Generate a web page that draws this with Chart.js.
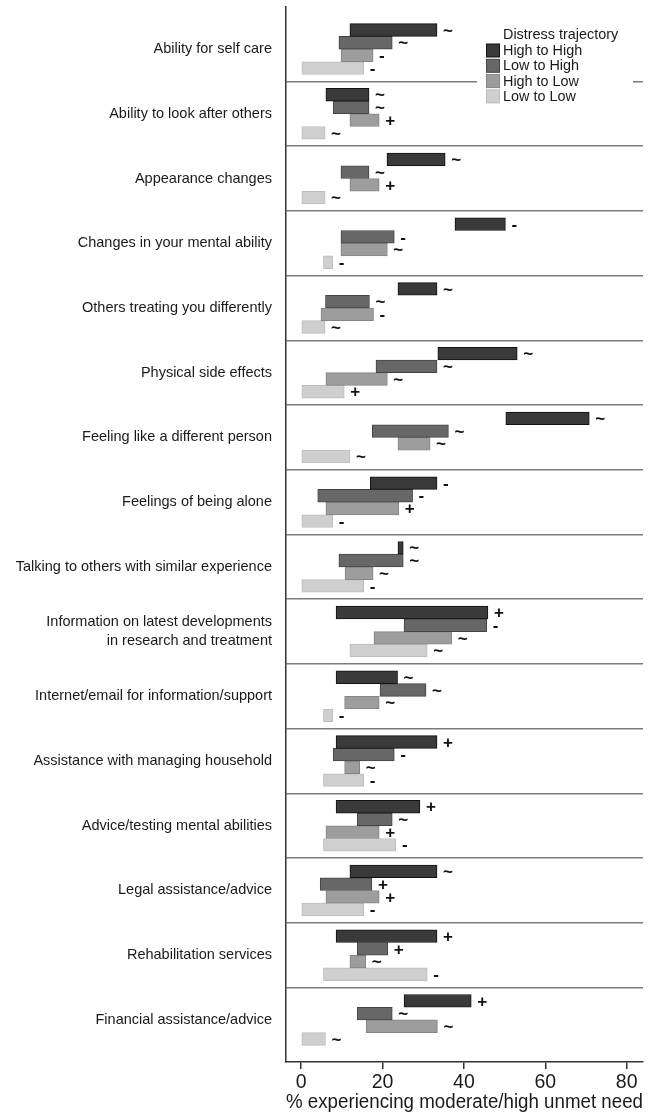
<!DOCTYPE html>
<html>
<head>
<meta charset="utf-8">
<script src="https://cdn.jsdelivr.net/npm/chart.js@4.4.1/dist/chart.umd.min.js"></script>
<style>
  html, body { margin: 0; padding: 0; background: #fff; }
  #wrap { width: 660px; height: 1116px; }
</style>
</head>
<body>
<div id="wrap"><canvas id="needs" width="660" height="1116"></canvas></div>
<script>
const categories = [
    'Ability for self care',
    'Ability to look after others',
    'Appearance changes',
    'Changes in your mental ability',
    'Others treating you differently',
    'Physical side effects',
    'Feeling like a different person',
    'Feelings of being alone',
    'Talking to others with similar experience',
    ['Information on latest developments', 'in research and treatment'],
    'Internet/email for information/support',
    'Assistance with managing household',
    'Advice/testing mental abilities',
    'Legal assistance/advice',
    'Rehabilitation services',
    'Financial assistance/advice'
];

const seriesNames = ['High to High', 'Low to High', 'High to Low', 'Low to Low'];
const xTicks = [0, 20, 40, 60, 80];

// [from, to] range of % with moderate/high unmet need, per category
const highToHigh = [
    [12.0, 33.4], [6.1, 16.7], [21.1, 35.4], [37.8, 50.2], [23.8, 33.4], [33.6, 53.1],
    [50.3, 70.8], [17.0, 33.4], [23.8, 25.1], [8.6, 45.9], [8.6, 23.7], [8.6, 33.4],
    [8.6, 29.2], [12.0, 33.4], [8.6, 33.4], [25.3, 41.8]
];
const lowToHigh = [
    [9.3, 22.4], [7.9, 16.7], [9.8, 16.7], [9.8, 22.9], [6.0, 16.8], [18.4, 33.4],
    [17.5, 36.2], [4.1, 27.4], [9.3, 25.1], [25.3, 45.6], [19.4, 30.7], [7.9, 22.9],
    [13.8, 22.4], [4.7, 17.4], [13.8, 21.3], [13.8, 22.4]
];
const highToLow = [
    [9.8, 17.7], [12.0, 19.2], [12.0, 19.2], [9.8, 21.2], [4.9, 17.8], [6.1, 21.2],
    [23.8, 31.7], [6.1, 24.0], [10.8, 17.7], [17.9, 37.0], [10.7, 19.2], [10.7, 14.4],
    [6.1, 19.2], [6.1, 19.2], [12.0, 15.9], [16.0, 33.5]
];
const lowToLow = [
    [0, 15.4], [0, 5.9], [0, 5.9], [5.5, 7.8], [0, 5.9], [0, 10.6],
    [0, 12.0], [0, 7.8], [0, 15.4], [12.0, 31.0], [5.5, 7.8], [5.5, 15.4],
    [5.5, 23.3], [0, 15.4], [5.5, 31.0], [0, 6.0]
];

// change markers printed after each bar
const highToHighMarks = ['~', '~', '~', '-', '~', '~', '~', '-', '~', '+', '~', '+', '+', '~', '+', '+'];
const lowToHighMarks  = ['~', '~', '~', '-', '~', '~', '~', '-', '~', '-', '~', '-', '~', '+', '+', '~'];
const highToLowMarks  = ['-', '+', '+', '~', '-', '~', '~', '+', '~', '~', '~', '~', '+', '+', '~', '~'];
const lowToLowMarks   = ['-', '~', '~', '-', '~', '+', '~', '-', '-', '~', '-', '-', '-', '-', '-', '~'];

const FONT = '"Liberation Sans", Arial, Helvetica, sans-serif';
const INK = '#1a1a1a';

function series(label, ranges, marks, fill, edge) {
    return {
        label: label,
        data: ranges.map((r, i) => ({ x: r, y: i })),
        marks: marks,
        backgroundColor: fill,
        borderColor: edge,
        borderWidth: 1,
        borderSkipped: false,
        barThickness: 12.7
    };
}

const sigMarks = {
    id: 'sigMarks',
    afterDatasetsDraw(chart) {
        const ctx = chart.ctx;
        ctx.save();
        ctx.font = 'bold 17px ' + FONT;
        ctx.fillStyle = '#111';
        ctx.textAlign = 'left';
        ctx.textBaseline = 'middle';
        chart.data.datasets.forEach((ds, di) => {
            chart.getDatasetMeta(di).data.forEach((bar, i) => {
                const end = Math.max(bar.x, bar.base);
                ctx.fillText(ds.marks[i], end + 6, bar.y + 1);
            });
        });
        ctx.restore();
    }
};

// legend box sitting in the top-right corner of the plot
const boxLegend = {
    id: 'boxLegend',
    afterDraw(chart) {
        const ctx = chart.ctx;
        const left = 477, top = 24;
        ctx.save();
        ctx.fillStyle = '#fff';
        ctx.fillRect(left, top, 156, 82);
        ctx.font = '14.4px ' + FONT;
        ctx.fillStyle = INK;
        ctx.textAlign = 'left';
        ctx.textBaseline = 'middle';
        ctx.fillText('Distress trajectory', left + 26, top + 11);
        chart.data.datasets.forEach((ds, i) => {
            const cy = top + 26.5 + i * 15.3;
            ctx.fillStyle = ds.backgroundColor;
            ctx.fillRect(left + 9.5, cy - 6.5, 13, 13);
            ctx.strokeStyle = ds.borderColor;
            ctx.lineWidth = 1;
            ctx.strokeRect(left + 9.5, cy - 6.5, 13, 13);
            ctx.fillStyle = INK;
            ctx.fillText(ds.label, left + 26, cy + 0.5);
        });
        ctx.restore();
    }
};

document.addEventListener('DOMContentLoaded', () => {
    const ctx = document.getElementById('needs')?.getContext('2d');

    if (!ctx) return;

    const data = {
        datasets: [
            series(seriesNames[0], highToHigh, highToHighMarks, '#3a3a3a', '#111111'),
            series(seriesNames[1], lowToHigh, lowToHighMarks, '#676767', '#444444'),
            series(seriesNames[2], highToLow, highToLowMarks, '#9d9d9d', '#858585'),
            series(seriesNames[3], lowToLow, lowToLowMarks, '#cfcfcf', '#bdbdbd')
        ]
    };

    const config = {
        type: 'bar',
        data: data,
        options: {
            indexAxis: 'y',
            responsive: false,
            animation: false,
            layout: { padding: { top: 7, right: 17, left: 0, bottom: 0 } },
            plugins: {
                legend: { display: false },
                tooltip: { enabled: false }
            },
            scales: {
                x: {
                    type: 'linear',
                    min: -3.7,
                    max: 84,
                    afterBuildTicks: s => { s.ticks = xTicks.map(v => ({ value: v })); },
                    afterFit: s => { s.height = 54; s.paddingRight = 0; s.paddingLeft = 0; },
                    grid: { drawOnChartArea: false, color: '#333', lineWidth: 1.5, tickLength: 7 },
                    border: { color: '#333', width: 1.5 },
                    ticks: { color: INK, padding: 2, font: { family: FONT, size: 19.5 } },
                    title: {
                        display: true,
                        text: '% experiencing moderate/high unmet need',
                        color: INK,
                        font: { family: FONT, size: 19.3 },
                        padding: { top: 0, bottom: 2 }
                    }
                },
                y: {
                    type: 'linear',
                    reverse: true,
                    offset: false,
                    min: -0.65,
                    max: 15.65,
                    // label at each category, separator line halfway between them
                    afterBuildTicks: s => {
                        s.ticks = [];
                        for (let v = 0; v <= 15; v += 0.5) s.ticks.push({ value: v });
                    },
                    afterFit: s => { s.width = 286; s.paddingTop = 0; s.paddingBottom = 0; },
                    grid: {
                        offset: false,
                        drawTicks: false,
                        lineWidth: 1.5,
                        color: c => (c.tick && c.tick.value % 1) ? '#7a7a7a' : 'rgba(0,0,0,0)'
                    },
                    border: { color: '#333', width: 1.5 },
                    ticks: {
                        autoSkip: false,
                        padding: 14,
                        color: INK,
                        font: { family: FONT, size: 14.5, lineHeight: 1.29 },
                        callback: v => Number.isInteger(v) ? categories[v] : ''
                    }
                }
            }
        },
        plugins: [sigMarks, boxLegend]
    };

    new Chart(ctx, config);
});
</script>
</body>
</html>
